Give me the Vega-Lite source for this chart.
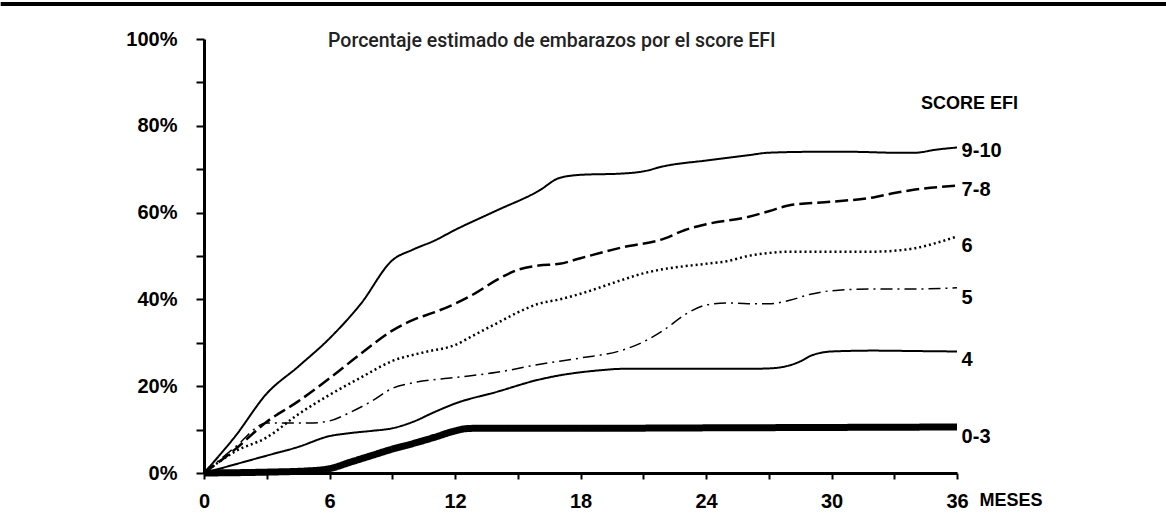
{
  "$schema": "https://vega.github.io/schema/vega-lite/v6.json",
  "width": 753,
  "height": 434,
  "autosize": "none",
  "padding": {"left": 204, "top": 39, "right": 209, "bottom": 54},
  "background": "white",
  "config": {"view": {"stroke": null}, "font": "Liberation Sans"},
  "datasets": {
    "curves": [
      {"series": "9-10", "m": 0, "p": 0}, {"series": "9-10", "m": 1.5, "p": 8.5}, {"series": "9-10", "m": 3, "p": 18.3}, {"series": "9-10", "m": 4.5, "p": 24.5}, {"series": "9-10", "m": 6, "p": 31}, {"series": "9-10", "m": 7.5, "p": 39}, {"series": "9-10", "m": 9, "p": 49}, {"series": "9-10", "m": 10, "p": 51.5}, {"series": "9-10", "m": 11, "p": 53.5}, {"series": "9-10", "m": 12, "p": 56}, {"series": "9-10", "m": 14, "p": 60.5}, {"series": "9-10", "m": 16, "p": 65}, {"series": "9-10", "m": 17, "p": 68}, {"series": "9-10", "m": 18, "p": 68.7}, {"series": "9-10", "m": 20, "p": 69}, {"series": "9-10", "m": 21, "p": 69.5}, {"series": "9-10", "m": 22, "p": 70.7}, {"series": "9-10", "m": 24, "p": 72}, {"series": "9-10", "m": 26, "p": 73.2}, {"series": "9-10", "m": 27, "p": 73.8}, {"series": "9-10", "m": 29, "p": 74}, {"series": "9-10", "m": 31, "p": 74}, {"series": "9-10", "m": 33, "p": 73.8}, {"series": "9-10", "m": 34, "p": 73.8}, {"series": "9-10", "m": 35, "p": 74.5}, {"series": "9-10", "m": 36, "p": 75},
      {"series": "7-8", "m": 0, "p": 0}, {"series": "7-8", "m": 1.5, "p": 5.5}, {"series": "7-8", "m": 3, "p": 11.8}, {"series": "7-8", "m": 4.5, "p": 16.5}, {"series": "7-8", "m": 6, "p": 21.8}, {"series": "7-8", "m": 7.5, "p": 27.5}, {"series": "7-8", "m": 9, "p": 32.8}, {"series": "7-8", "m": 10, "p": 35.3}, {"series": "7-8", "m": 11, "p": 37}, {"series": "7-8", "m": 12, "p": 39}, {"series": "7-8", "m": 13, "p": 41.5}, {"series": "7-8", "m": 14, "p": 44.5}, {"series": "7-8", "m": 15, "p": 46.8}, {"series": "7-8", "m": 16, "p": 47.8}, {"series": "7-8", "m": 17, "p": 48.2}, {"series": "7-8", "m": 18, "p": 49.5}, {"series": "7-8", "m": 20, "p": 52}, {"series": "7-8", "m": 22, "p": 54}, {"series": "7-8", "m": 23, "p": 56}, {"series": "7-8", "m": 24, "p": 57.3}, {"series": "7-8", "m": 26, "p": 59}, {"series": "7-8", "m": 27, "p": 60.3}, {"series": "7-8", "m": 28, "p": 61.7}, {"series": "7-8", "m": 30, "p": 62.5}, {"series": "7-8", "m": 32, "p": 63.5}, {"series": "7-8", "m": 33, "p": 64.5}, {"series": "7-8", "m": 34, "p": 65.3}, {"series": "7-8", "m": 36, "p": 66.2},
      {"series": "6", "m": 0, "p": 0}, {"series": "6", "m": 1.5, "p": 5}, {"series": "6", "m": 3, "p": 8.2}, {"series": "6", "m": 4.5, "p": 13.5}, {"series": "6", "m": 6, "p": 18}, {"series": "6", "m": 7.5, "p": 22}, {"series": "6", "m": 9, "p": 25.8}, {"series": "6", "m": 10.5, "p": 27.8}, {"series": "6", "m": 12, "p": 29.5}, {"series": "6", "m": 13, "p": 32}, {"series": "6", "m": 14, "p": 34.5}, {"series": "6", "m": 15, "p": 37}, {"series": "6", "m": 16, "p": 39}, {"series": "6", "m": 17, "p": 40}, {"series": "6", "m": 18, "p": 41.3}, {"series": "6", "m": 20, "p": 44.5}, {"series": "6", "m": 21, "p": 46}, {"series": "6", "m": 22, "p": 47}, {"series": "6", "m": 24, "p": 48.2}, {"series": "6", "m": 25, "p": 48.8}, {"series": "6", "m": 26, "p": 50}, {"series": "6", "m": 27, "p": 50.7}, {"series": "6", "m": 28, "p": 51}, {"series": "6", "m": 30, "p": 51}, {"series": "6", "m": 32, "p": 51}, {"series": "6", "m": 33, "p": 51.2}, {"series": "6", "m": 34, "p": 51.8}, {"series": "6", "m": 35, "p": 53}, {"series": "6", "m": 36, "p": 54.5},
      {"series": "5", "m": 0, "p": 0}, {"series": "5", "m": 1.5, "p": 6}, {"series": "5", "m": 3, "p": 11.5}, {"series": "5", "m": 4, "p": 11.5}, {"series": "5", "m": 5, "p": 11.5}, {"series": "5", "m": 6, "p": 12}, {"series": "5", "m": 7, "p": 14}, {"series": "5", "m": 8, "p": 16.5}, {"series": "5", "m": 9, "p": 19.5}, {"series": "5", "m": 10, "p": 20.8}, {"series": "5", "m": 12, "p": 22}, {"series": "5", "m": 14, "p": 23.2}, {"series": "5", "m": 16, "p": 25}, {"series": "5", "m": 18, "p": 26.5}, {"series": "5", "m": 20, "p": 28.3}, {"series": "5", "m": 21, "p": 30.2}, {"series": "5", "m": 22, "p": 33}, {"series": "5", "m": 23, "p": 36.5}, {"series": "5", "m": 24, "p": 38.7}, {"series": "5", "m": 25, "p": 39.2}, {"series": "5", "m": 26, "p": 39}, {"series": "5", "m": 27, "p": 39}, {"series": "5", "m": 28, "p": 39.8}, {"series": "5", "m": 29, "p": 41.2}, {"series": "5", "m": 30, "p": 42}, {"series": "5", "m": 32, "p": 42.4}, {"series": "5", "m": 34, "p": 42.4}, {"series": "5", "m": 36, "p": 42.7},
      {"series": "4", "m": 0, "p": 0}, {"series": "4", "m": 1.5, "p": 2}, {"series": "4", "m": 3, "p": 4}, {"series": "4", "m": 4.5, "p": 6}, {"series": "4", "m": 6, "p": 8.5}, {"series": "4", "m": 7, "p": 9.2}, {"series": "4", "m": 8, "p": 9.7}, {"series": "4", "m": 9, "p": 10.3}, {"series": "4", "m": 10, "p": 11.8}, {"series": "4", "m": 11, "p": 14}, {"series": "4", "m": 12, "p": 16}, {"series": "4", "m": 14, "p": 18.7}, {"series": "4", "m": 16, "p": 21.5}, {"series": "4", "m": 17, "p": 22.5}, {"series": "4", "m": 18, "p": 23.2}, {"series": "4", "m": 19, "p": 23.7}, {"series": "4", "m": 20, "p": 24}, {"series": "4", "m": 22, "p": 24}, {"series": "4", "m": 24, "p": 24}, {"series": "4", "m": 26, "p": 24}, {"series": "4", "m": 27, "p": 24.1}, {"series": "4", "m": 28, "p": 24.8}, {"series": "4", "m": 28.5, "p": 25.7}, {"series": "4", "m": 29, "p": 27}, {"series": "4", "m": 29.5, "p": 27.7}, {"series": "4", "m": 30, "p": 28}, {"series": "4", "m": 32, "p": 28.2}, {"series": "4", "m": 34, "p": 28.1}, {"series": "4", "m": 36, "p": 28},
      {"series": "0-3", "m": 0, "p": 0}, {"series": "0-3", "m": 3, "p": 0.2}, {"series": "0-3", "m": 5, "p": 0.5}, {"series": "0-3", "m": 6, "p": 1}, {"series": "0-3", "m": 7, "p": 2.5}, {"series": "0-3", "m": 8, "p": 4}, {"series": "0-3", "m": 9, "p": 5.5}, {"series": "0-3", "m": 10, "p": 6.8}, {"series": "0-3", "m": 11, "p": 8.2}, {"series": "0-3", "m": 12, "p": 9.7}, {"series": "0-3", "m": 12.5, "p": 10.2}, {"series": "0-3", "m": 13, "p": 10.3}, {"series": "0-3", "m": 18, "p": 10.3}, {"series": "0-3", "m": 24, "p": 10.4}, {"series": "0-3", "m": 30, "p": 10.5}, {"series": "0-3", "m": 36, "p": 10.6}
    ],
    "labels": [
      {"text": "9-10", "m": 36.22, "p": 74.2},
      {"text": "7-8", "m": 36.22, "p": 65.2},
      {"text": "6", "m": 36.22, "p": 52.4},
      {"text": "5", "m": 36.22, "p": 40.4},
      {"text": "4", "m": 36.22, "p": 26.0},
      {"text": "0-3", "m": 36.22, "p": 8.3}
    ],
    "heading": [
      {"text": "SCORE EFI", "m": 36.6, "p": 85.0, "anchor": "center"},
      {"text": "MESES", "m": 37.08, "p": -6.45, "anchor": "left"}
    ],
    "title": [
      {"text": "Porcentaje estimado de embarazos por el score EFI", "m": 5.93, "p": 99.5}
    ],
    "border": [
      {"x1": -9.72, "x2": 46, "yy": 108.06}
    ]
  },
  "layer": [
    {
      "data": {"name": "curves"},
      "mark": {"type": "line", "interpolate": "monotone", "color": "black", "strokeCap": "butt"},
      "encoding": {
        "x": {
          "field": "m", "type": "quantitative",
          "scale": {"domain": [0, 36], "nice": false, "zero": false},
          "axis": {
            "title": null, "grid": false,
            "values": [0, 3, 6, 9, 12, 15, 18, 21, 24, 27, 30, 33, 36],
            "labelExpr": "datum.value % 6 == 0 ? datum.label : ''",
            "domainColor": "black", "domainWidth": 3,
            "tickColor": "black", "tickWidth": 2, "tickSize": 6,
            "labelFont": "Liberation Sans", "labelFontWeight": "bold", "labelFontSize": 20,
            "labelColor": "black", "labelBaseline": "middle", "labelPadding": 22,
            "labelFlush": false, "labelOverlap": false
          }
        },
        "y": {
          "field": "p", "type": "quantitative",
          "scale": {"domain": [0, 100], "nice": false},
          "axis": {
            "title": null, "grid": false,
            "values": [0, 5, 10, 15, 20, 25, 30, 35, 40, 45, 50, 55, 60, 65, 70, 75, 80, 85, 90, 95, 100],
            "labelExpr": "datum.value % 20 == 0 ? datum.value + '%' : ''",
            "domainColor": "black", "domainWidth": 3,
            "tickColor": "black", "tickWidth": 2, "tickSize": 8,
            "labelFont": "Liberation Sans", "labelFontWeight": "bold", "labelFontSize": 20,
            "labelColor": "black", "labelBaseline": "middle", "labelPadding": 19,
            "labelFlush": false, "labelOverlap": false
          }
        },
        "detail": {"field": "series"},
        "strokeDash": {
          "field": "series", "type": "nominal", "legend": null,
          "scale": {"domain": ["9-10", "7-8", "6", "5", "4", "0-3"], "range": [[1, 0], [13, 5], [2, 3], [12, 5, 2, 5], [1, 0], [1, 0]]}
        },
        "strokeWidth": {
          "field": "series", "type": "ordinal", "legend": null,
          "scale": {"type": "ordinal", "domain": ["9-10", "7-8", "6", "5", "4", "0-3"], "range": [2, 2.5, 2.5, 1.5, 2, 7]}
        }
      }
    },
    {
      "data": {"name": "labels"},
      "mark": {"type": "text", "align": "left", "baseline": "middle", "font": "Liberation Sans", "fontWeight": "bold", "fontSize": 20, "color": "black"},
      "encoding": {
        "x": {"field": "m", "type": "quantitative"},
        "y": {"field": "p", "type": "quantitative"},
        "text": {"field": "text"}
      }
    },
    {
      "data": {"name": "heading"},
      "mark": {"type": "text", "baseline": "middle", "font": "Liberation Sans", "fontWeight": "bold", "fontSize": 18, "color": "black", "align": {"expr": "datum.anchor"}},
      "encoding": {
        "x": {"field": "m", "type": "quantitative"},
        "y": {"field": "p", "type": "quantitative"},
        "text": {"field": "text"}
      }
    },
    {
      "data": {"name": "title"},
      "mark": {"type": "text", "align": "left", "baseline": "middle", "font": "Roboto", "fontWeight": 500, "fontSize": 19.5, "color": "#222222"},
      "encoding": {
        "x": {"field": "m", "type": "quantitative"},
        "y": {"field": "p", "type": "quantitative"},
        "text": {"field": "text"}
      }
    },
    {
      "data": {"name": "border"},
      "mark": {"type": "rule", "color": "black", "strokeWidth": 4},
      "encoding": {
        "x": {"field": "x1", "type": "quantitative"},
        "x2": {"field": "x2"},
        "y": {"field": "yy", "type": "quantitative"}
      }
    }
  ]
}
